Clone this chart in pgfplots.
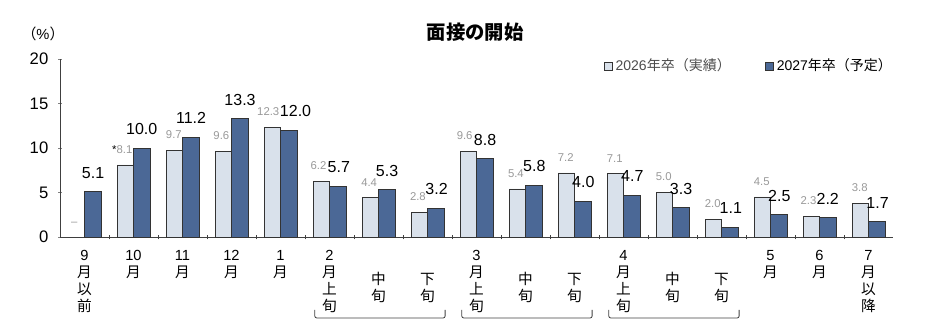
\documentclass[border=0pt]{standalone}
\usepackage{pgfplots}
\pgfplotsset{compat=1.18}
\usepackage{fontspec}
\setmainfont{Liberation Sans}
\newfontfamily\jp{Noto Sans CJK JP}
\newcommand{\J}[1]{{\jp #1}}
\newcommand{\astmark}{\llap{\textcolor{black}{*}}}
\definecolor{light}{HTML}{D9E1EB}
\definecolor{dark}{HTML}{4B6896}
\definecolor{lbl}{HTML}{999999}
\begin{document}
\begin{tikzpicture}
\useasboundingbox (0,0) rectangle (710.25pt,243.75pt);
\begin{axis}[
  at={(45pt,66pt)}, anchor=south west,
  scale only axis, width=624.75pt, height=133.5pt,
  xmin=-0.5, xmax=16.5, ymin=0, ymax=20,
  axis lines=left, axis line style={-, black!75, line width=0.6pt},
  clip=false,
  ytick={0,5,10,15,20},
  yticklabel style={font=\fontsize{12.5}{14}\selectfont, xshift=-4pt},
  /pgf/number format/assume math mode=true,
  xtick={0,...,16},
  minor xtick={0.5,1.5,...,15.5},
  every major x tick/.append style={draw=none},
  every minor x tick/.append style={black!75},
  minor tick length=3.5pt, major tick length=2.5pt,
  xticklabel style={font=\fontsize{11}{12.75}\selectfont, align=center, anchor=north, yshift=-5.25pt},
  xticklabels={{9\\\J{月}\\\J{以}\\\J{前}},{10\\\J{月}},{11\\\J{月}},{12\\\J{月}},{1\\\J{月}},
    {2\\\J{月}\\\J{上}\\\J{旬}},{\mbox{}\\\mbox{}\\\J{中}\\\J{旬}},{\mbox{}\\\mbox{}\\\J{下}\\\J{旬}},
    {3\\\J{月}\\\J{上}\\\J{旬}},{\mbox{}\\\mbox{}\\\J{中}\\\J{旬}},{\mbox{}\\\mbox{}\\\J{下}\\\J{旬}},
    {4\\\J{月}\\\J{上}\\\J{旬}},{\mbox{}\\\mbox{}\\\J{中}\\\J{旬}},{\mbox{}\\\mbox{}\\\J{下}\\\J{旬}},
    {5\\\J{月}},{6\\\J{月}},{7\\\J{月}\\\J{以}\\\J{降}}},
  legend style={at={(0.6483,0.9607)}, anchor=west, draw=none, fill=none,
    font=\fontsize{10.5}{12}\selectfont, legend columns=2,
    /tikz/every even column/.append style={column sep=24pt}},
  legend cell align=left,
]
\addplot[ybar, bar width=0.335, bar shift=-0.1675, fill=light, draw=black!80, line width=0.6pt,
  point meta=explicit symbolic, nodes near coords,
  visualization depends on={\thisrow{dx} \as \dx},
  every node near coord/.append style={font=\fontsize{8.5}{10}\selectfont, text=lbl, anchor=south, inner sep=0pt, yshift=8.5pt, xshift=\dx pt},
  legend image code/.code={\draw[fill=light, draw=black!80, line width=0.5pt] (0pt,-3pt) rectangle (6pt,3pt);}]
table[x=x, y=y, meta=l] {
x  y    l      dx
0  0    --     -7.6
1  8.1  \astmark8.1 -6.8
2  9.7  9.7    -6.5
3  9.6  9.6    -7.6
4  12.3 12.3   -9.2
5  6.2  6.2    -8.2
6  4.4  4.4    -7
7  2.8  2.8    -7.2
8  9.6  9.6    -8.9
9  5.4  5.4    -7.2
10 7.2  7.2    -6.6
11 7.1  7.1    -6.6
12 5.0  5.0    -6.6
13 2.0  2.0    -6.6
14 4.5  4.5    -6.6
15 2.3  2.3    -8.2
16 3.8  3.8    -6.6
};
\addlegendentry{\textcolor{black!70}{2026\J{年卒（実績）}}}
\addplot[ybar, bar width=0.335, bar shift=0.1675, fill=dark, draw=black!80, line width=0.6pt,
  point meta=explicit symbolic, nodes near coords,
  visualization depends on={\thisrow{dx} \as \dx},
  every node near coord/.append style={font=\fontsize{12}{14}\selectfont, text=black, anchor=south, inner sep=0pt, yshift=9.75pt, xshift=\dx pt},
  legend image code/.code={\draw[fill=dark, draw=black!80, line width=0.5pt] (0pt,-3pt) rectangle (6pt,3pt);}]
table[x=x, y=y, meta=l] {
x  y    l     dx
0  5.1  5.1   6.4
1  10.0 10.0  6.2
2  11.2 11.2  6.4
3  13.3 13.3  6.4
4  12.0 12.0  11.3
5  5.7  5.7   7.0
6  5.3  5.3   6.4
7  3.2  3.2   6.8
8  8.8  8.8   6.4
9  5.8  5.8   6.6
10 4.0  4.0   6.6
11 4.7  4.7   6.6
12 3.3  3.3   6.4
13 1.1  1.1   7.0
14 2.5  2.5   6.6
15 2.2  2.2   6.2
16 1.7  1.7   6.8
};
\addlegendentry{2027\J{年卒（予定）}}
\node[font=\jp\bfseries\fontsize{14.5}{16}\selectfont] at (rel axis cs:0.4982,1.152) {面接の開始};
\node[font=\fontsize{11}{12}\selectfont] at (rel axis cs:-0.0204,1.14) {\J{（}\%\J{）}};
\pgfplotsinvokeforeach{5,8,11}{
  \draw[black!75, line width=0.6pt, rounded corners=1.5pt]
    (axis cs:#1-0.3,-8.2) -- (axis cs:#1-0.3,-9.1) -- (axis cs:#1+2.36,-9.1) -- (axis cs:#1+2.36,-8.2);
}
\end{axis}
\end{tikzpicture}
\end{document}
